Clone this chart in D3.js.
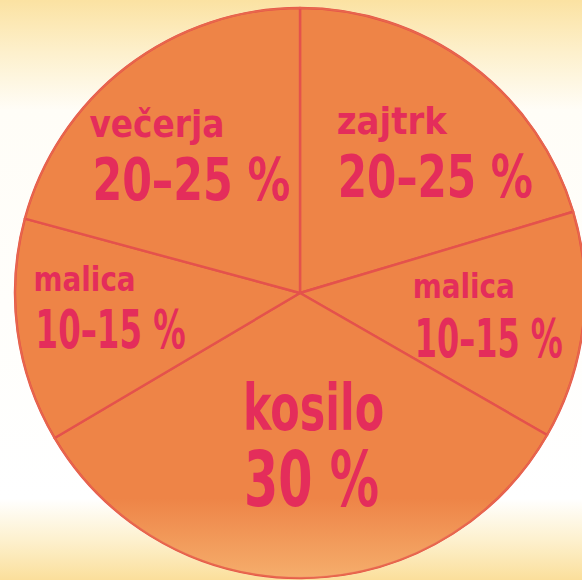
<!DOCTYPE html>
<html>
<head>
<meta charset="utf-8">
<script src="https://cdn.jsdelivr.net/npm/d3@7"></script>
<style>
  html, body { margin: 0; padding: 0; background: #fff; }
  #wrapper svg { display: block; }
  .slice { fill: #ee8447; stroke: #e4524c; stroke-width: 2.4; stroke-linejoin: round; }
  .meal-name, .meal-share { fill: #e42d5b; font-family: "DejaVu Sans Condensed", "DejaVu Sans", sans-serif; font-weight: bold; }
</style>
</head>
<body>
<div id="wrapper"></div>
<script>
// data (clockwise from 12 o'clock)
const meals = ["zajtrk", "malica", "kosilo", "malica", "večerja"]
const shares = [20.4, 12.9, 33.2, 12.7, 20.8]
const shareLabels = ["20–25 %", "10–15 %", "30 %", "10–15 %", "20–25 %"]

function drawPie() {
  const dimensions = {
    width: 582,
    height: 580,
    cx: 300,
    cy: 293,
    radius: 285,
    labelRadius: 177,
  }

  // label layout: nudge from centroid, text sizes and widths
  const labelLayout = [
    { dx: -69, dy: -17, nameSize: 38, nameWidth: 110, shareSize: 58, shareWidth: 195, gap: 63, shareDx: 1 },
    { dx: -63, dy: -16, nameSize: 34, nameWidth: 102, shareSize: 54, shareWidth: 148, gap: 59, shareDx: 2 },
    { dx: -58, dy: -40, nameSize: 64, nameWidth: 141, shareSize: 76, shareWidth: 135, gap: 76, shareDx: 1 },
    { dx: -91, dy: -26, nameSize: 34, nameWidth: 102, shareSize: 54, shareWidth: 150, gap: 57, shareDx: 2 },
    { dx: -103, dy: -15, nameSize: 38, nameWidth: 135, shareSize: 58, shareWidth: 198, gap: 63, shareDx: 3 },
  ]

  const wrapper = d3.select("#wrapper")
    .append("svg")
      .attr("width", dimensions.width)
      .attr("height", dimensions.height)

  const defs = wrapper.append("defs")

  // cream background fading to white
  const bgGradient = defs.append("linearGradient")
      .attr("id", "bg-gradient")
      .attr("x1", 0).attr("y1", 0).attr("x2", 0).attr("y2", 1)
  bgGradient.selectAll("stop")
    .data([[0, "#fbe2a2"], [0.09, "#fdf0cc"], [0.19, "#fffdf7"], [0.86, "#ffffff"], [0.93, "#fdf1cf"], [1, "#fbdf9b"]])
    .join("stop")
      .attr("offset", d => d[0])
      .attr("stop-color", d => d[1])

  // light glow at the bottom of the pie
  const glow = defs.append("linearGradient")
      .attr("id", "pie-glow")
      .attr("x1", 0).attr("y1", 0).attr("x2", 0).attr("y2", 1)
  glow.selectAll("stop")
    .data([[0, 0], [0.86, 0], [1, 0.55]])
    .join("stop")
      .attr("offset", d => d[0])
      .attr("stop-color", "#fbd08a")
      .attr("stop-opacity", d => d[1])

  wrapper.append("rect")
      .attr("width", dimensions.width)
      .attr("height", dimensions.height)
      .style("fill", "url(#bg-gradient)")

  const bounds = wrapper.append("g")
      .attr("transform", `translate(${dimensions.cx}, ${dimensions.cy})`)

  const pie = d3.pie().sort(null).value(d => d)
  const arcs = pie(shares)

  const arc = d3.arc()
    .innerRadius(0)
    .outerRadius(dimensions.radius)

  const labelArc = d3.arc()
    .innerRadius(dimensions.labelRadius)
    .outerRadius(dimensions.labelRadius)

  bounds.selectAll(".slice")
    .data(arcs)
    .join("path")
      .attr("class", "slice")
      .attr("d", arc)

  bounds.append("circle")
      .attr("r", dimensions.radius)
      .style("fill", "url(#pie-glow)")
      .style("stroke", "#e8684c")
      .style("stroke-width", 1.5)

  // labels
  const labels = bounds.selectAll(".label")
    .data(arcs)
    .join("g")
      .attr("class", "label")
      .attr("transform", (d, i) => {
        const [x, y] = labelArc.centroid(d)
        return `translate(${x + labelLayout[i].dx}, ${y + labelLayout[i].dy})`
      })

  labels.append("text")
      .attr("class", "meal-name")
      .style("font-size", (d, i) => labelLayout[i].nameSize + "px")
      .attr("textLength", (d, i) => labelLayout[i].nameWidth)
      .attr("lengthAdjust", "spacingAndGlyphs")
      .text((d, i) => meals[i])

  labels.append("text")
      .attr("class", "meal-share")
      .attr("x", (d, i) => labelLayout[i].shareDx)
      .attr("y", (d, i) => labelLayout[i].gap)
      .style("font-size", (d, i) => labelLayout[i].shareSize + "px")
      .attr("textLength", (d, i) => labelLayout[i].shareWidth)
      .attr("lengthAdjust", "spacingAndGlyphs")
      .text((d, i) => shareLabels[i])
}
drawPie()
</script>
</body>
</html>
